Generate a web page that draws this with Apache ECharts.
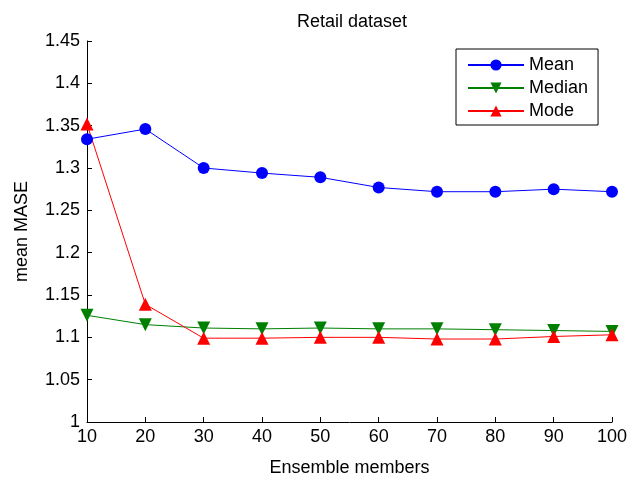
<!DOCTYPE html>
<html>
<head>
<meta charset="utf-8">
<script src="https://cdn.jsdelivr.net/npm/echarts@6/dist/echarts.min.js"></script>
<style>html,body{margin:0;padding:0;background:#fff}#c{width:635px;height:482px}</style>
</head>
<body>
<div id="c"></div>
<script>
const members = [10, 20, 30, 40, 50, 60, 70, 80, 90, 100];
const meanVals = [1.334, 1.346, 1.300, 1.294, 1.289, 1.277, 1.272, 1.272, 1.275, 1.272];
const medianVals = [1.126, 1.115, 1.111, 1.110, 1.111, 1.110, 1.110, 1.109, 1.108, 1.107];
const modeVals = [1.352, 1.139, 1.099, 1.099, 1.100, 1.100, 1.098, 1.098, 1.101, 1.103];
const xTicks = [10, 20, 30, 40, 50, 60, 70, 80, 90, 100];
const yTicks = [1, 1.05, 1.1, 1.15, 1.2, 1.25, 1.3, 1.35, 1.4, 1.45];

const font = 'Liberation Sans, Arial, Helvetica, sans-serif';
const fs = 18;
const pairs = v => members.map((m, i) => [m, v[i]]);

const chart = echarts.init(document.getElementById('c'), null, {renderer: 'canvas'});
chart.setOption({
  animation: false,
  backgroundColor: '#ffffff',
  title: {
    text: 'Retail dataset',
    left: 347, top: 8, textAlign: 'center',
    textStyle: {fontFamily: font, fontSize: fs, fontWeight: 'normal', color: '#000'}
  },
  grid: {left: 87, right: 23, top: 41, bottom: 60, containLabel: false},
  legend: {
    left: 456, top: 49,
    orient: 'vertical',
    borderColor: '#000', borderWidth: 1,
    padding: [7, 10, 5, 11],
    itemWidth: 56, itemHeight: 14, itemGap: 5,
    textStyle: {fontFamily: font, fontSize: fs, lineHeight: 18, color: '#000'},
    data: ['Mean', 'Median', 'Mode']
  },
  xAxis: {
    type: 'value', min: xTicks[0], max: xTicks[xTicks.length - 1], interval: 10,
    name: 'Ensemble members', nameLocation: 'middle', nameGap: 37,
    nameTextStyle: {fontFamily: font, fontSize: fs, color: '#000'},
    axisLine: {lineStyle: {color: '#000', width: 1}},
    axisTick: {inside: true, length: 5, lineStyle: {color: '#000'}},
    axisLabel: {fontFamily: font, fontSize: fs, color: '#000', margin: 6},
    splitLine: {show: false}
  },
  yAxis: {
    type: 'value', min: yTicks[0], max: yTicks[yTicks.length - 1], interval: 0.05,
    name: 'mean MASE', nameLocation: 'middle', nameGap: 56, nameRotate: 90,
    nameTextStyle: {fontFamily: font, fontSize: fs, color: '#000'},
    axisLine: {show: true, lineStyle: {color: '#000', width: 1}},
    axisTick: {show: true, inside: true, length: 5, lineStyle: {color: '#000'}},
    axisLabel: {fontFamily: font, fontSize: fs, color: '#000', margin: 7,
      formatter: v => String(parseFloat(v.toFixed(2)))},
    splitLine: {show: false}
  },
  series: [
    {name: 'Mean', type: 'line', data: pairs(meanVals), symbol: 'circle', symbolSize: 12,
     itemStyle: {color: '#0000ff'}, lineStyle: {color: '#0000ff', width: 1}},
    {name: 'Median', type: 'line', data: pairs(medianVals), symbol: 'triangle', symbolRotate: 180, symbolSize: 13,
     itemStyle: {color: '#008000'}, lineStyle: {color: '#008000', width: 1}},
    {name: 'Mode', type: 'line', data: pairs(modeVals), symbol: 'triangle', symbolSize: 13,
     itemStyle: {color: '#ff0000'}, lineStyle: {color: '#ff0000', width: 1}}
  ]
});
</script>
</body>
</html>
